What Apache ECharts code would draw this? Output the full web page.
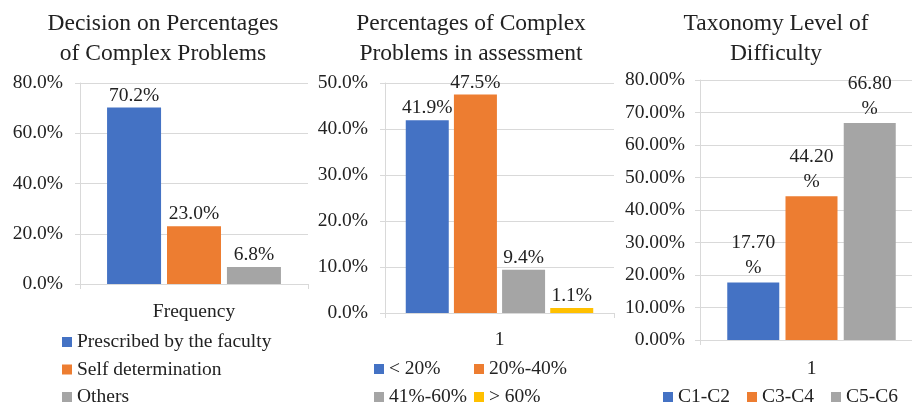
<!DOCTYPE html>
<html>
<head>
<meta charset="utf-8">
<script src="https://cdn.jsdelivr.net/npm/echarts@6/dist/echarts.min.js"></script>
<style>
html,body{margin:0;padding:0;background:#fff;}
#chart{width:912px;height:407px;}
</style>
</head>
<body>
<div id="chart"></div>
<script>
// ---- Data ----
const titles = [
  'Decision on Percentages\nof Complex Problems',
  'Percentages of Complex\nProblems in assessment',
  'Taxonomy Level of\nDifficulty'
];
const cat1 = ['Frequency'];
const names1 = ['Prescribed by the faculty', 'Self determination', 'Others'];
const values1 = [70.2, 23.0, 6.8];

const cat2 = ['1'];
const names2 = ['< 20%', '20%-40%', '41%-60%', '> 60%'];
const values2 = [41.9, 47.5, 9.4, 1.1];

const cat3 = ['1'];
const names3 = ['C1-C2', 'C3-C4', 'C5-C6'];
const values3 = [17.7, 44.2, 66.8];

const colors = ['#4472C4', '#ED7D31', '#A5A5A5', '#FFC000'];

// ---- Style ----
const FONT = 'Liberation Serif';
const TXT = '#222222';
const LINE = '#d9d9d9';
const FS = 19.5;

const chart = echarts.init(document.getElementById('chart'));

function xAxis(gridIndex, data, margin) {
  return {
    type: 'category', gridIndex, data,
    axisLine: {lineStyle: {color: LINE}},
    axisTick: {show: true, length: 5, lineStyle: {color: LINE}},
    axisLabel: {color: TXT, fontFamily: FONT, fontSize: FS, margin}
  };
}
function yAxis(gridIndex, max, interval, decimals, margin) {
  return {
    type: 'value', gridIndex, min: 0, max, interval,
    axisLine: {show: true, lineStyle: {color: LINE}},
    axisTick: {show: true, length: 5, lineStyle: {color: LINE}},
    splitLine: {lineStyle: {color: LINE}},
    axisLabel: {color: TXT, fontFamily: FONT, fontSize: FS, margin,
      formatter: v => v.toFixed(decimals) + '%'}
  };
}
function bars(idx, names, values, barWidth, barGap, labelFmt, dist, lh) {
  return names.map((n, i) => ({
    type: 'bar', name: n, xAxisIndex: idx, yAxisIndex: idx,
    data: [values[i]], barWidth, barGap,
    itemStyle: {color: colors[i]},
    label: {show: true, position: 'top', distance: dist, color: TXT,
      fontFamily: FONT, fontSize: FS, lineHeight: lh, formatter: p => labelFmt(p.value)}
  }));
}
const legendBase = {
  padding: 0, itemWidth: 10, itemHeight: 10, icon: 'rect',
  textStyle: {color: TXT, fontFamily: FONT, fontSize: FS}
};

const titleCenters = [163, 471, 776];

const option = {
  animation: false,
  title: titles.map((t, i) => ({
    text: t, left: titleCenters[i], top: 9, padding: 0,
    textAlign: 'center', textVerticalAlign: 'top',
    textStyle: {color: TXT, fontFamily: FONT, fontSize: 23.5, fontWeight: 'normal', lineHeight: 30}
  })),
  grid: [
    {left: 80, top: 83, width: 228, height: 201, outerBoundsMode: 'none'},
    {left: 385, top: 83, width: 229, height: 230, outerBoundsMode: 'none'},
    {left: 700, top: 80, width: 223, height: 260, outerBoundsMode: 'none'}
  ],
  xAxis: [xAxis(0, cat1, 18), xAxis(1, cat2, 17), xAxis(2, cat3, 19)],
  yAxis: [yAxis(0, 80, 20, 1, 17), yAxis(1, 50, 10, 1, 17), yAxis(2, 80, 10, 2, 15)],
  legend: [
    Object.assign({}, legendBase, {orient: 'vertical', left: 62, top: 332, itemGap: 7.5, data: names1}),
    Object.assign({}, legendBase, {orient: 'vertical', left: 374, top: 359, itemGap: 8, data: [names2[0], names2[2]]}),
    Object.assign({}, legendBase, {orient: 'vertical', left: 474, top: 359, itemGap: 8, data: [names2[1], names2[3]]}),
    Object.assign({}, legendBase, {orient: 'horizontal', left: 663, top: 387, itemGap: 17, data: names3})
  ],
  series: [].concat(
    bars(0, names1, values1, 54, '11%', v => v.toFixed(1) + '%', 2, 20),
    bars(1, names2, values2, 43, '12%', v => v.toFixed(1) + '%', 2, 20),
    bars(2, names3, values3, 52, '12%', v => v.toFixed(2) + '\n%', 2, 25)
  )
};
chart.setOption(option);
</script>
</body>
</html>
